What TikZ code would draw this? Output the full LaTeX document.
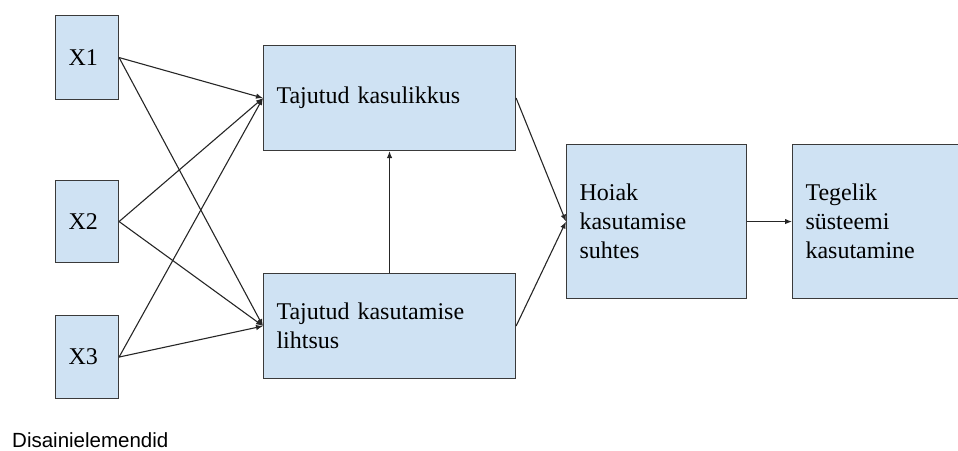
\documentclass[tikz,border=0pt]{standalone}
\usepackage{fontspec}
\setmainfont{Liberation Serif}
\newfontfamily\labelfont{Liberation Sans}
\usetikzlibrary{arrows.meta}
\definecolor{boxfill}{HTML}{CFE2F3}
\definecolor{boxline}{HTML}{3A3A3A}
\tikzset{
  x=1pt, y=-1pt,
  block/.style={draw=boxline, fill=boxfill, line width=1.1pt, rectangle,
    anchor=north west, inner xsep=13pt, inner ysep=0pt, align=left,
    font=\fontsize{24}{29}\selectfont},
  link/.style={draw=black!85, line width=1.1pt,
    -{Latex[length=7pt,width=5.5pt]}}
}
\begin{document}
\begin{tikzpicture}
\clip (0,0) rectangle (958,450);
\useasboundingbox (0,0) rectangle (958,450);
% input factors
\node[block, minimum width=63pt, minimum height=84pt, text width=37pt] (x1) at (55,15) {X1};
\node[block, minimum width=63pt, minimum height=82pt, text width=37pt] (x2) at (55,180) {X2};
\node[block, minimum width=63pt, minimum height=83pt, text width=37pt] (x3) at (55,315) {X3};
% perceptions
\node[block, minimum width=252pt, minimum height=105pt, text width=226pt] (pu) at (263,45) {Tajutud kasulikkus};
\node[block, minimum width=252pt, minimum height=105pt, text width=226pt] (peou) at (263,273) {Tajutud kasutamise\\lihtsus};
% attitude and use
\node[block, minimum width=180pt, minimum height=154pt, text width=154pt] (att) at (566,144) {Hoiak\\kasutamise\\suhtes};
\node[block, minimum width=180pt, minimum height=154pt, text width=154pt] (use) at (792,144) {Tegelik\\süsteemi\\kasutamine};
% caption
\node[anchor=base west, inner sep=0pt, font=\labelfont\fontsize{20.5}{24}\selectfont] (cap) at (12,447) {Disainielemendid};
% connectors
\foreach \s in {x1,x2,x3} {
  \draw[link] (\s.east) -- (pu.west);
  \draw[link] (\s.east) -- (peou.west);
}
\draw[link] (peou.north) -- (pu.south);
\draw[link] (pu.east) -- (att.west);
\draw[link] (peou.east) -- (att.west);
\draw[link] (att.east) -- (use.west);
\end{tikzpicture}
\end{document}
